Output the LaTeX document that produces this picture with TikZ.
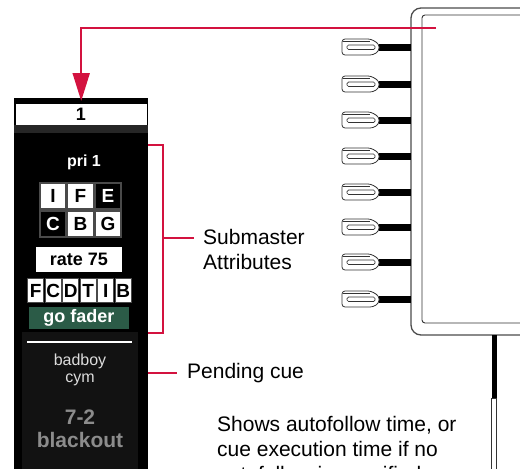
\documentclass[tikz,border=0pt]{standalone}
\usepackage{fontspec}
\setmainfont{Liberation Sans}
\usepackage{xcolor}
\definecolor{callout}{HTML}{D3123F}
\definecolor{fadergreen}{HTML}{2B5B47}
\definecolor{cellrule}{HTML}{4A4A4A}
\definecolor{cuegray}{HTML}{8C8C8C}
\definecolor{namegray}{HTML}{DCDCDC}
\definecolor{lowbg}{HTML}{121212}
\usetikzlibrary{arrows.meta,positioning,calc}
\tikzset{
  callarr/.style={-{Triangle[length=28pt,width=17pt]},draw=callout,line width=2pt},
  callline/.style={draw=callout,line width=2pt},
  note/.style={font=\fontsize{21}{25}\selectfont,align=left,inner sep=0pt},
  wcell/.style={draw=cellrule,line width=1.2pt,fill=white,text=black,minimum width=26pt,minimum height=26pt,inner sep=0pt,font=\fontsize{19}{19}\selectfont\bfseries},
  bcell/.style={wcell,fill=black,text=white},
  scell/.style={wcell,minimum width=16pt,minimum height=24pt},
  wbox/.style={fill=white,text=black,inner sep=0pt,font=\fontsize{18}{18}\selectfont\bfseries},
  plug/.style={draw=black!80,line width=0.8pt,fill=white},
}
\begin{document}
\begin{tikzpicture}[x=1pt,y=-1pt]
\useasboundingbox (0,0) rectangle (520,469);
% console channel panel
\node[fill=black,minimum width=134pt,minimum height=371pt,inner sep=0pt,anchor=north west] (panel) at (14,98) {};
\fill[black!85] (14,125) rectangle (148,133);
\node[wbox,minimum width=131pt,minimum height=21pt,font=\fontsize{18}{18}\selectfont\bfseries] (num) at (81,114.5) {1};
\node[text=white,font=\fontsize{16}{16}\selectfont\bfseries] (pri) at (84,162) {pri 1};
\foreach \t/\s [count=\i from 0] in {I/wcell,F/wcell,E/bcell}
  \node[\s] (a\i) at (53+27.5*\i,196) {\t};
\foreach \t/\s [count=\i from 0] in {C/bcell,B/wcell,G/wcell}
  \node[\s] (b\i) at (53+27.5*\i,224) {\t};
\node[wbox,minimum width=86pt,minimum height=25pt] (rate) at (79,259.5) {rate 75};
\foreach \t [count=\i from 0] in {F,C,D,T,I,B}
  \node[scell] (f\i) at (35.75+17.5*\i,290.5) {\t};
\node[wbox,fill=fadergreen,text=white,minimum width=100pt,minimum height=22pt] (go) at (79,318) {go fader};
% pending cue area
\fill[lowbg] (22,332) rectangle (138,469);
\draw[white,line width=2.5pt] (27,342) -- (132,342);
\node[text=namegray,font=\fontsize{16}{17}\selectfont,align=center] (cue) at (80,369.5) {badboy\\cym};
\node[text=cuegray,font=\fontsize{21}{23}\selectfont\bfseries,align=center] (time) at (80,428.5) {7-2\\blackout};

% device with ports
\draw[black!70,line width=1.3pt,rounded corners=10pt] (411,8) rectangle (540,335);
\draw[black!80,line width=0.9pt,rounded corners=3pt] (422,15) rectangle (540,323);
\foreach \c in {47,84,120,156,192,227,262,299}{
  \fill[black] (379,\c-3.5) rectangle (411,\c+3.5);
  \draw[plug,rounded corners=3pt] (342,\c-8) -- (371,\c-8) -- (379,\c-3) -- (379,\c+4) -- (373,\c+8) -- (342,\c+8) -- cycle;
  \draw[black!80,line width=0.6pt] (343,\c-6) -- (370,\c-6);
  \draw[black!80,line width=0.7pt,rounded corners=1.5pt] (347,\c-2) rectangle (375,\c+2.5);
}
\fill[black] (491.5,335) rectangle (496.5,398);
\draw[black!80,line width=0.8pt,fill=white] (491.5,398) rectangle (496.5,475);

% callouts
\coordinate (src) at (436,28);
\draw[callarr] (src) -- (src -| panel.north) -- ([yshift=-3pt]panel.north);
\coordinate (bt) at (148,145);
\coordinate (bb) at (148,333);
\coordinate (bm) at (163,238);
\draw[callline] (bt) -- (bt -| bm) -- (bb -| bm) -- (bb);
\node[note,anchor=north west] (sub) at (203,229) {Submaster\\Attributes};
\draw[callline,shorten >=9pt] (bm) -- (bm -| sub.west);
\node[note,anchor=west] (pend) at (187,373) {Pending cue};
\draw[callline,shorten >=10pt] (panel.east |- pend) -- (pend.west);
\node[note,anchor=north west] (auto) at (217,416) {Shows autofollow time, or\\cue execution time if no\\autofollow is specified.};
\end{tikzpicture}
\end{document}
